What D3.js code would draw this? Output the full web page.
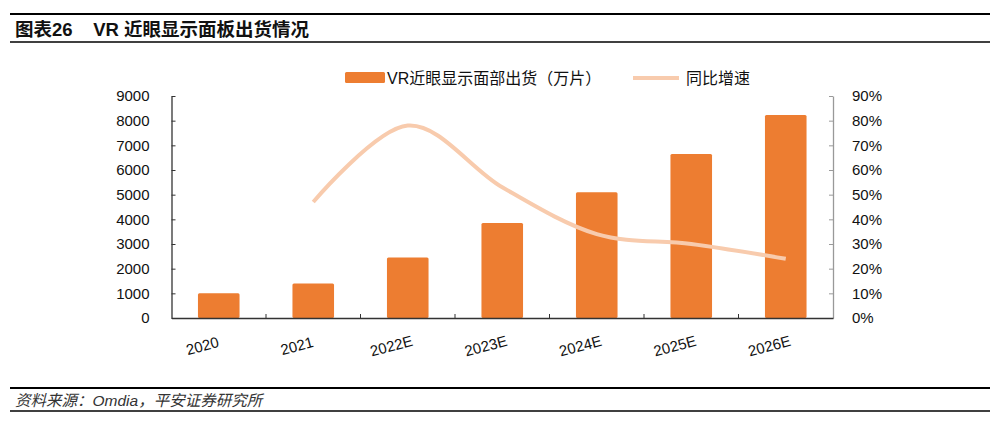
<!DOCTYPE html>
<html>
<head>
<meta charset="utf-8">
<script src="https://cdn.jsdelivr.net/npm/d3@7"></script>
<style>
  body { margin: 0; background: #fff; }
  svg { display: block; font-family: "Liberation Sans", Arial, "Noto Sans CJK SC", sans-serif; }
</style>
</head>
<body>
<svg id="chart" width="1000" height="421"></svg>
<script>
var years = ["2020", "2021", "2022E", "2023E", "2024E", "2025E", "2026E"];
var shipments = [1000, 1400, 2450, 3850, 5100, 6650, 8230];
var growth = [null, 0.47, 0.78, 0.53, 0.34, 0.30, 0.24];
var leftTicks = [0, 1000, 2000, 3000, 4000, 5000, 6000, 7000, 8000, 9000];
var rightTicks = [0, 0.1, 0.2, 0.3, 0.4, 0.5, 0.6, 0.7, 0.8, 0.9];

var svg = d3.select("#chart");
var cjk = "'Liberation Sans', 'Noto Sans CJK SC', sans-serif";

// title block
svg.append("line").attr("x1", 10).attr("x2", 990).attr("y1", 14).attr("y2", 14)
    .attr("stroke", "#000").attr("stroke-width", 2);
svg.append("line").attr("x1", 10).attr("x2", 990).attr("y1", 42).attr("y2", 42)
    .attr("stroke", "#000").attr("stroke-width", 1.5);
svg.append("text").attr("x", 15).attr("y", 36)
    .style("font-family", cjk).style("font-size", "18.5px").style("font-weight", "bold")
    .attr("fill", "#111")
    .text("图表26\u00a0\u00a0\u00a0\u00a0VR 近眼显示面板出货情况");

// footer
svg.append("line").attr("x1", 10).attr("x2", 990).attr("y1", 388).attr("y2", 388)
    .attr("stroke", "#000").attr("stroke-width", 2);
svg.append("line").attr("x1", 10).attr("x2", 990).attr("y1", 411).attr("y2", 411)
    .attr("stroke", "#000").attr("stroke-width", 1.5);
svg.append("text").attr("x", 15).attr("y", 406)
    .style("font-family", cjk).style("font-size", "15.5px").style("font-style", "italic")
    .attr("fill", "#333")
    .text("资料来源：Omdia，平安证券研究所");

var x = d3.scaleBand().domain(years).range([171.5, 833]).paddingInner(0).paddingOuter(0);
var yL = d3.scaleLinear().domain([0, 9000]).range([318, 96]);
var yR = d3.scaleLinear().domain([0, 0.9]).range([318, 96]);
var barW = x.bandwidth() * 0.44;

// bars
svg.selectAll(".bar").data(years).enter().append("rect")
    .attr("class", "bar")
    .attr("x", d => x(d) + (x.bandwidth() - barW) / 2)
    .attr("y", (d, i) => yL(shipments[i]))
    .attr("width", barW)
    .attr("height", (d, i) => yL(0) - yL(shipments[i]))
    .attr("rx", 1.5)
    .attr("fill", "#ED7D31");

// left axis
var gL = svg.append("g").attr("transform", "translate(171.5,0)")
    .call(d3.axisLeft(yL).tickValues(leftTicks).tickFormat(d3.format("d")).tickSize(4).tickSizeOuter(0).tickPadding(18));
gL.select(".domain").attr("stroke", "#333").attr("stroke-width", 1.3);
gL.selectAll(".tick line").attr("stroke", "#333").attr("x2", 4);
gL.selectAll(".tick text").style("font-size", "15px").attr("fill", "#111");

// right axis
var gR = svg.append("g").attr("transform", "translate(833,0)")
    .call(d3.axisRight(yR).tickValues(rightTicks).tickFormat(d3.format(".0%")).tickSize(4).tickSizeOuter(0).tickPadding(15));
gR.select(".domain").attr("stroke", "#999").attr("stroke-width", 1.3);
gR.selectAll(".tick line").attr("stroke", "#999").attr("x2", -4);
gR.selectAll(".tick text").style("font-size", "15px").attr("fill", "#111");

// bottom axis
var gB = svg.append("g").attr("transform", "translate(0,318)")
    .call(d3.axisBottom(x).tickSize(0).tickPadding(0));
gB.select(".domain").attr("stroke", "#333").attr("stroke-width", 1.3);
gB.selectAll(".tick text").style("font-size", "15px").attr("fill", "#111")
    .attr("y", 0).attr("dy", 0)
    .attr("transform", "translate(-15,33) rotate(-15)");
svg.selectAll(".btick").data(years.slice(1)).enter().append("line")
    .attr("x1", d => x(d)).attr("x2", d => x(d))
    .attr("y1", 318).attr("y2", 314)
    .attr("stroke", "#333");

// growth line
var pts = years.map((d, i) => [x(d) + x.bandwidth() / 2, growth[i]]).filter(p => p[1] !== null);
svg.append("path")
    .attr("d", d3.line().x(p => p[0]).y(p => yR(p[1])).curve(d3.curveCatmullRom.alpha(0))(pts))
    .attr("fill", "none")
    .attr("stroke", "#F8CBAD")
    .attr("stroke-width", 4);

// legend
svg.append("rect").attr("x", 345).attr("y", 72).attr("width", 40).attr("height", 11)
    .attr("rx", 1.5).attr("fill", "#ED7D31");
svg.append("text").attr("x", 387).attr("y", 84)
    .style("font-family", cjk).style("font-size", "16px").attr("fill", "#111")
    .text("VR近眼显示面部出货（万片）");
svg.append("line").attr("x1", 633).attr("x2", 679).attr("y1", 78).attr("y2", 78)
    .attr("stroke", "#F8CBAD").attr("stroke-width", 4);
svg.append("text").attr("x", 686).attr("y", 84)
    .style("font-family", cjk).style("font-size", "16px").attr("fill", "#111")
    .text("同比增速");
</script>
</body>
</html>
